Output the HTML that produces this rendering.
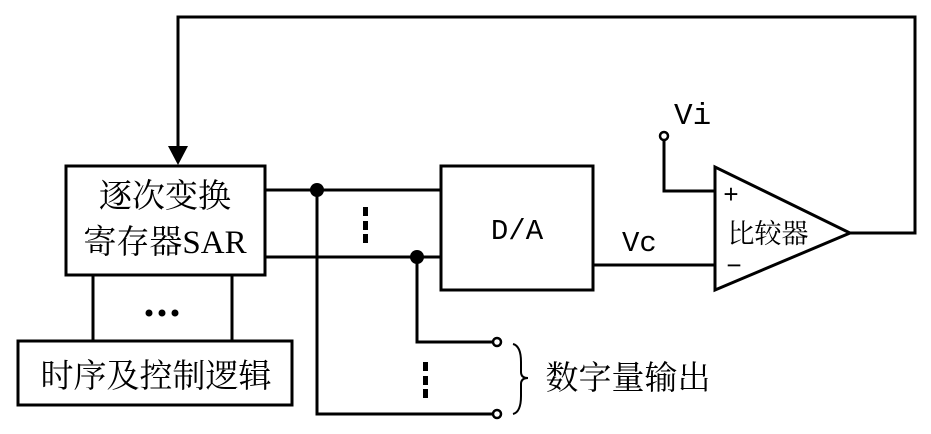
<!DOCTYPE html>
<html><head><style>body{margin:0;background:#fff}svg{display:block}</style></head><body>
<svg width="931" height="434" viewBox="0 0 931 434" xmlns="http://www.w3.org/2000/svg">
<g fill="none" stroke="#000" stroke-width="3">
<rect x="66" y="166" width="199" height="109"/>
<rect x="18" y="341" width="274" height="64"/>
<rect x="441" y="166" width="152" height="124"/>
<polyline points="178,150 178,17 915,17 915,233 850,233"/>
<polygon points="715,167 715,290 850,233"/>
<line x1="93" y1="275" x2="93" y2="341"/>
<line x1="232" y1="275" x2="232" y2="341"/>
<line x1="265" y1="190" x2="441" y2="190"/>
<line x1="265" y1="257" x2="441" y2="257"/>
<polyline points="317,190 317,414 493,414"/>
<polyline points="417,257 417,342 493,342"/>
<line x1="593" y1="265" x2="715" y2="265"/>
<polyline points="664,140 664,191 715,191"/>
<path d="M513,344 Q521,346 521,362 L521,372 Q521,378 528,378 Q521,378 521,384 L521,396 Q521,412 513,414" stroke-width="2"/>
</g>
<polygon points="168,146 188,146 178,165" fill="#000"/>
<circle cx="317" cy="190" r="7"/>
<circle cx="417" cy="257" r="7"/>
<g fill="#fff" stroke="#000" stroke-width="2.5">
<circle cx="497" cy="342" r="4"/><circle cx="497" cy="414" r="4"/><circle cx="664" cy="136" r="4"/>
</g>
<g fill="#000">
<rect x="363" y="207" width="5" height="9"/><rect x="363" y="221" width="5" height="9"/><rect x="363" y="234" width="5" height="9"/>
<rect x="423" y="362" width="5" height="9"/><rect x="423" y="376" width="5" height="9"/><rect x="423" y="389" width="5" height="9"/>
<circle cx="149" cy="313" r="3.5"/><circle cx="162" cy="313" r="3.5"/><circle cx="175" cy="313" r="3.5"/>
</g>
<g font-family="'Liberation Serif','Noto Serif CJK SC',serif" font-size="33" fill="#000" text-anchor="middle">
<text x="165" y="207">逐次变换</text>
<text x="165" y="253">寄存器SAR</text>
<text x="156" y="387">时序及控制逻辑</text>
<text x="517" y="239" font-family="'Liberation Mono',monospace" font-size="29">D/A</text>
<text x="674" y="124" font-family="'Liberation Mono',monospace" font-size="31" text-anchor="start">Vi</text>
<text x="768" y="243" font-size="27">比较器</text>
<text x="628" y="389">数字量输出</text>
<text x="731" y="203" font-family="'Liberation Sans',sans-serif" font-size="26">+</text>
<text x="734" y="274" font-family="'Liberation Sans',sans-serif" font-size="26">−</text>
<text x="622" y="251" font-family="'Liberation Mono',monospace" font-size="29" text-anchor="start">Vc</text>
</g>
</svg>
</body></html>
